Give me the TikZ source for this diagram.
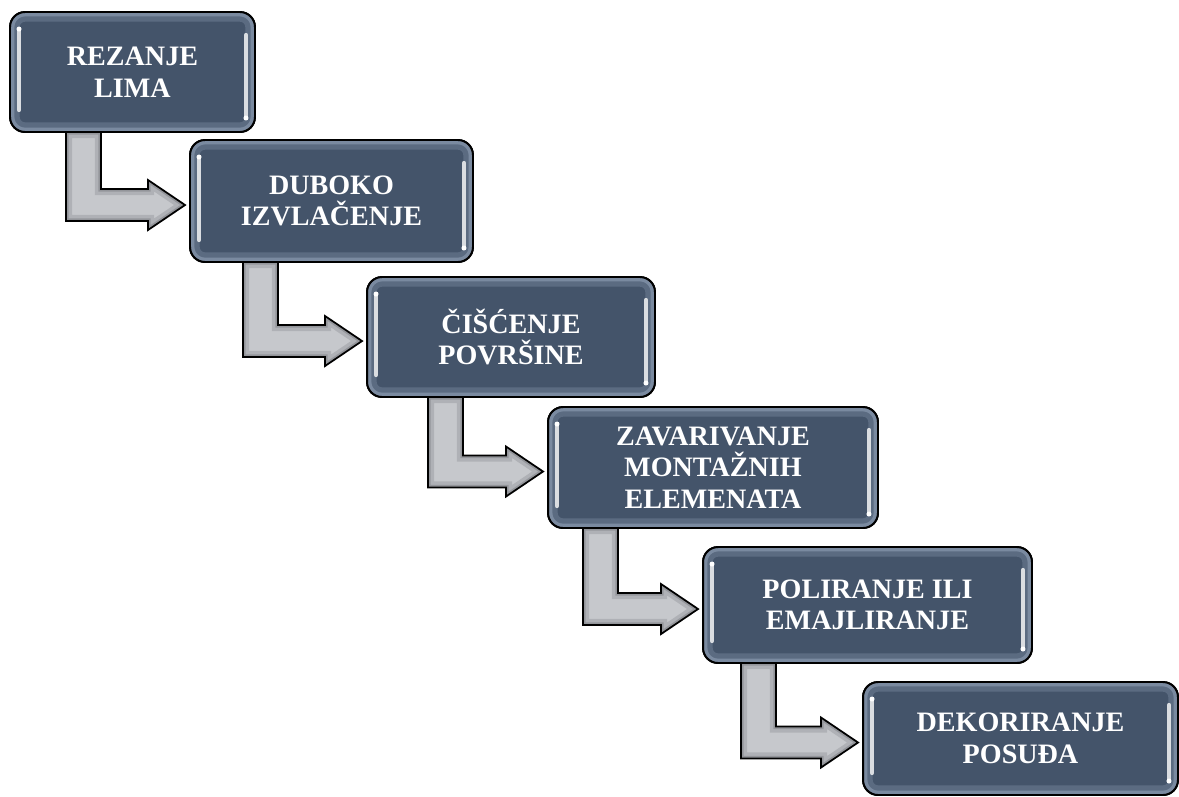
\documentclass[tikz,border=0pt]{standalone}
\usepackage{fontspec}
\setmainfont{Liberation Serif}
\usepackage{tikz}
\definecolor{slate}{RGB}{68,84,106}
\definecolor{glow}{RGB}{160,176,198}
\definecolor{steel}{RGB}{198,200,204}
\definecolor{steeldark}{RGB}{96,98,104}
\usetikzlibrary{calc}

\tikzset{
    stepbox/.style={draw=black, line width=1.1pt, fill=slate, rounded corners=0.3cm,
        outer sep=0pt, inner sep=0pt, text=white, align=center,
        font=\fontsize{16}{18}\selectfont\bfseries},
    boxedge/.style={draw=black, line width=1.1pt, rounded corners=0.3cm},
    shine/.style={line width=2.4pt, white!80!slate, line cap=round},
    bevel/.style={draw=steeldark, line join=miter},
    arrowline/.style={draw=black, line width=1pt, line join=miter}
}

\begin{document}
\begin{tikzpicture}[x=0.02cm, y=-0.02cm]
    % Page frame
    \useasboundingbox (0,0) rectangle (1179,796);

    % Process steps
    \node[stepbox, minimum width=4.9cm, minimum height=2.4cm] (r1) at (132.5,72) {REZANJE\\LIMA};
    \node[stepbox, minimum width=5.66cm, minimum height=2.44cm] (r2) at (331.5,201) {DUBOKO\\IZVLAČENJE};
    \node[stepbox, minimum width=5.76cm, minimum height=2.4cm] (r3) at (511,337) {ČIŠĆENJE\\POVRŠINE};
    \node[stepbox, minimum width=6.6cm, minimum height=2.42cm] (r4) at (713,467.5) {ZAVARIVANJE\\MONTAŽNIH\\ELEMENATA};
    \node[stepbox, minimum width=6.58cm, minimum height=2.32cm] (r5) at (867.5,605) {POLIRANJE ILI\\EMAJLIRANJE};
    \node[stepbox, minimum width=6.3cm, minimum height=2.26cm] (r6) at (1020.5,738.5) {DEKORIRANJE\\POSUĐA};

    % Bent arrows between steps
    \foreach \a/\b/\o in {r1/r2/56, r2/r3/53, r3/r4/61, r4/r5/35, r5/r6/38} {
        \coordinate (s1) at ($(\a.south west)+(\o,0)$);
        \coordinate (s2) at ($(s1)+(35,0)$);
        \coordinate (t) at ($(\b.west)+(-5,4)$);
        \coordinate (hu) at ($(t)+(-37,-16)$);
        \coordinate (hl) at ($(t)+(-37,16)$);
        \def\arrpath{(s1) -- (s2) -- (s2 |- hu) -- (hu) -- ($(hu)+(0,-9)$) -- (t) -- ($(hl)+(0,9)$) -- (hl) -- (s1 |- hl) -- cycle}
        \fill[steel] \arrpath;
        \begin{scope}
            \clip \arrpath;
            \draw[bevel, line width=7pt, opacity=0.22] \arrpath;
            \draw[bevel, line width=3pt, opacity=0.35] \arrpath;
        \end{scope}
        \draw[arrowline] \arrpath;
    }

    % Glow, edge and shine of each step
    \foreach \n in {r1,r2,r3,r4,r5,r6} {
        \begin{scope}
            \clip[rounded corners=0.3cm] (\n.north west) rectangle (\n.south east);
            \draw[glow, line width=11pt, opacity=0.25, rounded corners=0.3cm] (\n.north west) rectangle (\n.south east);
            \draw[glow, line width=5pt, opacity=0.45, rounded corners=0.3cm] (\n.north west) rectangle (\n.south east);
        \end{scope}
        \draw[boxedge] (\n.north west) rectangle (\n.south east);
        \draw[shine] ($(\n.north west)+(9,17)$) -- ($(\n.south west)+(9,-22)$);
        \draw[shine] ($(\n.north east)+(-9,23)$) -- ($(\n.south east)+(-9,-14)$);
        \fill[white] ($(\n.north west)+(9,17)$) circle (2.5);
        \fill[white] ($(\n.south east)+(-9,-14)$) circle (2.5);
    }
\end{tikzpicture}
\end{document}
